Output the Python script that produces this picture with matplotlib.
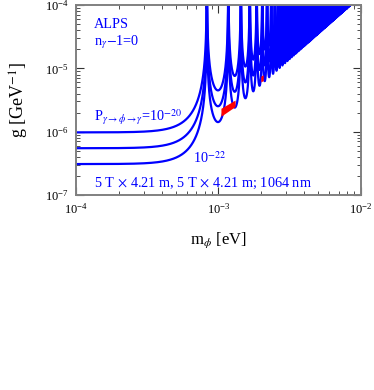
import numpy as np
import matplotlib
matplotlib.use("Agg")
import matplotlib.pyplot as plt

plt.rcParams['font.family'] = ['Liberation Serif', 'DejaVu Serif']
plt.rcParams['mathtext.fontset'] = 'stix'

# values
prob_levels = [1e-20, 1e-21, 1e-22]          # P(gamma -> phi -> gamma)
g_plateau = [9.75e-7, 5.48e-7, 3.08e-7]      # low-mass coupling, GeV^-1
m_first_null = 8.3e-4                        # first oscillation null, eV
# red islands
red1_m = [1.05e-3, 1.05e-3, 1.32e-3, 1.32e-3]
red1_g = [1.72e-6, 2.30e-6, 3.10e-6, 2.45e-6]
red2_m = [2.00e-3, 2.00e-3, 2.08e-3, 2.08e-3]
red2_g = [6.0e-6, 7.4e-6, 7.8e-6, 6.3e-6]

BLUE = '#0000ff'

fig = plt.figure(figsize=(3.74, 3.9), dpi=100)
ax = fig.add_axes([0.203, 0.5, 0.762, 0.487])

# sensitivity curves: g = g0 * x / |sin x|, x = pi (m / m1)^2
m = np.geomspace(1e-4, 1e-2, 400000)
x = np.pi * (m / m_first_null) ** 2
for g0 in g_plateau:
    s = np.abs(np.sin(x))
    g = g0 * x / np.maximum(s, 1e-9)
    g = np.minimum(g, 1e-3)
    ax.plot(m, g, color=BLUE, lw=1.6, zorder=2)

ax.fill(red1_m, red1_g, color='red', lw=0, zorder=3)
ax.fill(red2_m, red2_g, color='red', lw=0, zorder=3)

ax.set_xscale('log')
ax.set_yscale('log')
ax.set_xlim(1e-4, 1e-2)
ax.set_ylim(1e-7, 1e-4)

for sp in ax.spines.values():
    sp.set_color('#808080')
    sp.set_linewidth(1.4)
ax.tick_params(which='both', direction='in', top=True, right=True,
               color='#333333', labelsize=9, pad=5)
ax.tick_params(which='major', length=6)
ax.tick_params(which='minor', length=3)

ax.set_xlabel(r'm$_\phi$ [eV]', fontsize=12, labelpad=10)
ax.set_ylabel(r'g [GeV$^{-1}$]', fontsize=13, labelpad=10)

tk = dict(transform=ax.transAxes, color=BLUE, fontsize=10.3, va='center')
ax.text(0.063, 0.90, 'ALPS', **tk)
ax.text(0.063, 0.805, r'n$_\gamma$$-$1=0', **tk)
ax.text(0.063, 0.41, r'P$_{\gamma\to\phi\to\gamma}$=10$^{-20}$', **tk)
ax.text(0.41, 0.195, r'10$^{-22}$', **tk)
ax.text(0.063, 0.063,
        r'5 T$\,\times\,$4.21 m, 5 T$\,\times\,$4.21 m; 1064 nm', **tk)

fig.savefig('out.png', dpi=100)
